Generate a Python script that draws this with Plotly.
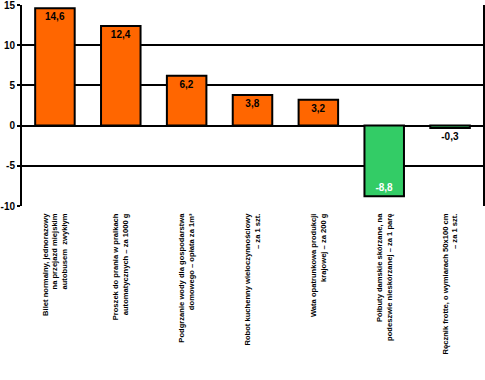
import plotly.graph_objects as go

categories = [
    "Bilet normalny, jednorazowy<br>na przejazd miejskim<br>autobusem  zwykłym",
    "Proszek do prania w pralkach<br>automatycznych – za 1000 g",
    "Podgrzanie wody dla gospodarstwa<br>domowego – opłata za 1m³",
    "Robot kuchenny wieloczynnościowy<br>– za 1 szt.",
    "Wata opatrunkowa produkcji<br>krajowej – za 200 g",
    "Półbuty damskie skórzane, na<br>podeszwie nieskórzanej – za 1 parę",
    "Ręcznik frotte, o wymiarach 50x100 cm<br>– za 1 szt.",
]
values = [14.6, 12.4, 6.2, 3.8, 3.2, -8.8, -0.3]
y_ticks = [15, 10, 5, 0, -5, -10]

colors = ["#FF6600" if v >= 0 else "#33CC66" for v in values]
labels = [f"{v:.1f}".replace(".", ",") for v in values]
positions = ["inside" if abs(v) > 1 else "outside" for v in values]
text_colors = ["#000000" if v >= 0 or abs(v) <= 1 else "#FFFFFF" for v in values]

fig = go.Figure(go.Bar(
    x=categories,
    y=values,
    marker=dict(color=colors, line=dict(color="#000000", width=2)),
    text=labels,
    textposition=positions,
    insidetextanchor="end",
    textangle=0,
    textfont=dict(family="Liberation Sans", size=10, color=text_colors, weight="bold"),
    cliponaxis=False,
))

fig.update_layout(
    width=485, height=380,
    margin=dict(l=22, r=2, t=5, b=174, autoexpand=False),
    paper_bgcolor="white", plot_bgcolor="white",
    showlegend=False,
    bargap=0.4,
    font=dict(family="Liberation Sans", color="#000000"),
)
fig.update_yaxes(
    automargin=False,
    range=[-10, 15],
    tickvals=y_ticks,
    ticktext=[str(t) for t in y_ticks],
    tickfont=dict(size=10, weight="bold"),
    ticklabeloverflow="allow",
    showgrid=True, gridcolor="#000000", gridwidth=2,
    zeroline=True, zerolinecolor="#000000", zerolinewidth=2,
    showline=True, linecolor="#000000", linewidth=2, mirror=True,
    ticks="outside", ticklen=3, tickcolor="#000000", tickwidth=2,
)
fig.update_xaxes(
    automargin=False,
    tickangle=-90,
    tickfont=dict(family="Liberation Sans", size=7.6, weight="bold"),
    ticklabelstandoff=5,
    showline=False,
    ticks="",
)

fig.write_html("out.html", config={"displayModeBar": False},
               post_script="document.body.style.margin='0';")
